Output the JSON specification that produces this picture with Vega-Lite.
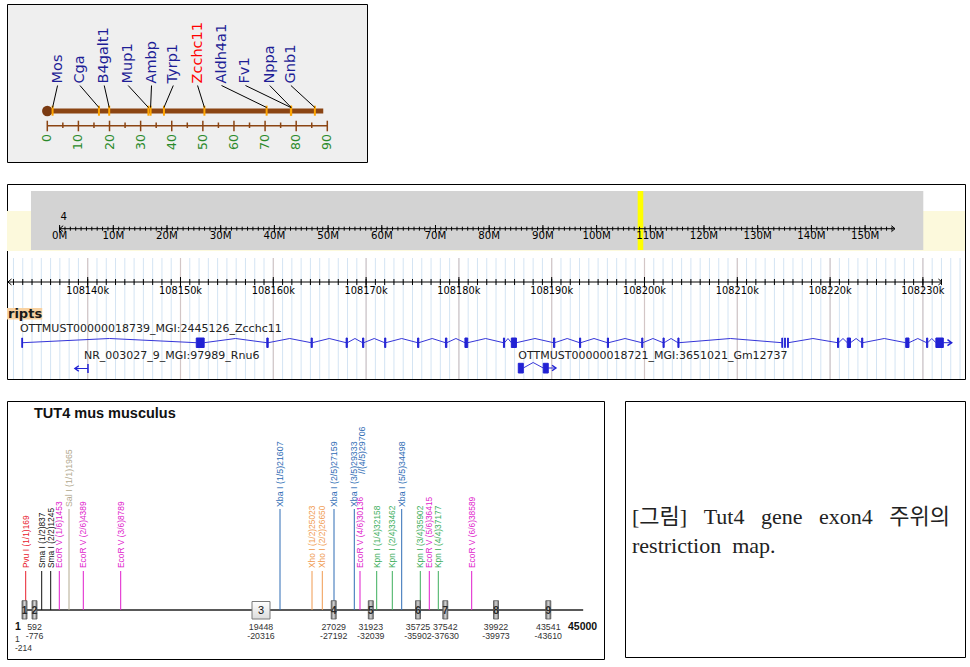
{
"$schema": "https://vega.github.io/schema/vega-lite/v6.json",
"padding": {"left": 5, "top": 3, "right": 5, "bottom": 2},
"background": "white",
"config": {"view": {"stroke": "#000000", "strokeWidth": 1}, "axis": {"disable": true}, "legend": {"disable": true}},
"datasets": {
"chr_cm": [{"start": 0, "end": 88.7}],
"cm_axis": [{"from": 0, "to": 90}],
"genes": [
{"gene": "Mos", "cm": 1.7, "lx": 3.3},
{"gene": "Cga", "cm": 16.6, "lx": 10.5},
{"gene": "B4galt1", "cm": 19.9, "lx": 18.3},
{"gene": "Mup1", "cm": 32.5, "lx": 26.0},
{"gene": "Ambp", "cm": 33.2, "lx": 33.5},
{"gene": "Tyrp1", "cm": 37.5, "lx": 40.5},
{"gene": "Zcchc11", "cm": 50.5, "lx": 48.3},
{"gene": "Aldh4a1", "cm": 70.5, "lx": 56.0},
{"gene": "Fv1", "cm": 78.3, "lx": 63.7},
{"gene": "Nppa", "cm": 78.4, "lx": 71.5},
{"gene": "Gnb1", "cm": 86.0, "lx": 78.3}],
"cm_major": [{"cm": 0}, {"cm": 10}, {"cm": 20}, {"cm": 30}, {"cm": 40}, {"cm": 50}, {"cm": 60}, {"cm": 70}, {"cm": 80}, {"cm": 90}],
"cm_minor": [5, 15, 25, 35, 45, 55, 65, 75, 85],
"view_kb": [{"from": 108131.304, "to": 108234.537}],
"k_all": [108132,108133,108134,108135,108136,108137,108138,108139,108140,108141,108142,108143,108144,108145,108146,108147,108148,108149,108150,108151,108152,108153,108154,108155,108156,108157,108158,108159,108160,108161,108162,108163,108164,108165,108166,108167,108168,108169,108170,108171,108172,108173,108174,108175,108176,108177,108178,108179,108180,108181,108182,108183,108184,108185,108186,108187,108188,108189,108190,108191,108192,108193,108194,108195,108196,108197,108198,108199,108200,108201,108202,108203,108204,108205,108206,108207,108208,108209,108210,108211,108212,108213,108214,108215,108216,108217,108218,108219,108220,108221,108222,108223,108224,108225,108226,108227,108228,108229,108230,108231,108232,108233,108234],
"k_major": [{"kb": 108140, "label": "108140k"}, {"kb": 108150, "label": "108150k"}, {"kb": 108160, "label": "108160k"}, {"kb": 108170, "label": "108170k"}, {"kb": 108180, "label": "108180k"}, {"kb": 108190, "label": "108190k"}, {"kb": 108200, "label": "108200k"}, {"kb": 108210, "label": "108210k"}, {"kb": 108220, "label": "108220k"}, {"kb": 108230, "label": "108230k"}],
"overview": [{"from": -5.33, "to": 160.84}],
"locus": [{"from": 107.65, "to": 108.69}],
"chr_mb": [{"chr": "4", "start": 0, "end": 155.57}],
"m_all": [0,1,2,3,4,5,6,7,8,9,10,11,12,13,14,15,16,17,18,19,20,21,22,23,24,25,26,27,28,29,30,31,32,33,34,35,36,37,38,39,40,41,42,43,44,45,46,47,48,49,50,51,52,53,54,55,56,57,58,59,60,61,62,63,64,65,66,67,68,69,70,71,72,73,74,75,76,77,78,79,80,81,82,83,84,85,86,87,88,89,90,91,92,93,94,95,96,97,98,99,100,101,102,103,104,105,106,107,108,109,110,111,112,113,114,115,116,117,118,119,120,121,122,123,124,125,126,127,128,129,130,131,132,133,134,135,136,137,138,139,140,141,142,143,144,145,146,147,148,149,150,151,152,153,154,155],
"m_major": [{"mb": 0, "label": "0M"}, {"mb": 10, "label": "10M"}, {"mb": 20, "label": "20M"}, {"mb": 30, "label": "30M"}, {"mb": 40, "label": "40M"}, {"mb": 50, "label": "50M"}, {"mb": 60, "label": "60M"}, {"mb": 70, "label": "70M"}, {"mb": 80, "label": "80M"}, {"mb": 90, "label": "90M"}, {"mb": 100, "label": "100M"}, {"mb": 110, "label": "110M"}, {"mb": 120, "label": "120M"}, {"mb": 130, "label": "130M"}, {"mb": 140, "label": "140M"}, {"mb": 150, "label": "150M"}],
"ruler_kb": [{"start": 108131.4, "end": 108232.06}],
"track_label": [{"label": "ripts", "from": 108131.304, "to": 108135.1}],
"transcripts": [
{"name": "OTTMUST00000018739_MGI:2445126_Zcchc11", "start": 108132.7, "row": 1},
{"name": "NR_003027_9_MGI:97989_Rnu6", "start": 108139.6, "row": 2},
{"name": "OTTMUST00000018721_MGI:3651021_Gm12737", "start": 108186.4, "row": 2}],
"z_exons": [
{"s": 108132.90, "e": 108132.98}, {"s": 108151.70, "e": 108152.55}, {"s": 108159.30, "e": 108159.45}, {"s": 108164.08, "e": 108164.20},
{"s": 108167.85, "e": 108167.98}, {"s": 108169.62, "e": 108169.75}, {"s": 108172.00, "e": 108172.12}, {"s": 108175.55, "e": 108175.68},
{"s": 108178.55, "e": 108178.70}, {"s": 108180.65, "e": 108180.95}, {"s": 108184.80, "e": 108184.92}, {"s": 108185.65, "e": 108186.20},
{"s": 108190.20, "e": 108190.33}, {"s": 108193.00, "e": 108193.12}, {"s": 108196.00, "e": 108196.12}, {"s": 108199.70, "e": 108199.82},
{"s": 108202.00, "e": 108202.12}, {"s": 108203.60, "e": 108203.72}, {"s": 108214.80, "e": 108214.88}, {"s": 108215.10, "e": 108215.18},
{"s": 108215.42, "e": 108215.50}, {"s": 108220.80, "e": 108220.92}, {"s": 108221.85, "e": 108222.20}, {"s": 108223.40, "e": 108223.52},
{"s": 108228.15, "e": 108228.50}, {"s": 108230.40, "e": 108230.52}, {"s": 108231.40, "e": 108232.20}],
"z_introns": [
{"s": 108132.98, "m": 108142.34, "e": 108151.70}, {"s": 108152.55, "m": 108155.93, "e": 108159.30}, {"s": 108159.45, "m": 108161.77, "e": 108164.08},
{"s": 108164.20, "m": 108166.03, "e": 108167.85}, {"s": 108167.98, "m": 108168.80, "e": 108169.62}, {"s": 108169.75, "m": 108170.88, "e": 108172.00},
{"s": 108172.12, "m": 108173.84, "e": 108175.55}, {"s": 108175.68, "m": 108177.12, "e": 108178.55}, {"s": 108178.70, "m": 108179.68, "e": 108180.65},
{"s": 108180.95, "m": 108182.88, "e": 108184.80}, {"s": 108184.92, "m": 108185.29, "e": 108185.65}, {"s": 108186.20, "m": 108188.20, "e": 108190.20},
{"s": 108190.33, "m": 108191.67, "e": 108193.00}, {"s": 108193.12, "m": 108194.56, "e": 108196.00}, {"s": 108196.12, "m": 108197.91, "e": 108199.70},
{"s": 108199.82, "m": 108200.91, "e": 108202.00}, {"s": 108202.12, "m": 108202.86, "e": 108203.60}, {"s": 108203.72, "m": 108209.26, "e": 108214.80},
{"s": 108215.50, "m": 108218.15, "e": 108220.80}, {"s": 108220.92, "m": 108221.39, "e": 108221.85}, {"s": 108222.20, "m": 108222.80, "e": 108223.40},
{"s": 108223.52, "m": 108225.84, "e": 108228.15}, {"s": 108228.50, "m": 108229.45, "e": 108230.40}, {"s": 108230.52, "m": 108230.96, "e": 108231.40}],
"z_end": [{"s": 108232.2, "e": 108233.1}],
"rnu6": [{"s": 108138.63, "e": 108140.03}],
"gm_exons": [{"s": 108186.40, "e": 108186.94}, {"s": 108189.09, "e": 108189.63}],
"gm_introns": [{"s": 108186.94, "m": 108188.0, "e": 108189.09}],
"gm_end": [{"s": 108189.63, "e": 108190.45}],
"seq": [{"name": "TUT4 mus musculus", "start": 1, "end": 45000}],
"sites": [
{"enz": "Pvu I", "label": "Pvu I (1/1)169", "pos": 169, "tier": "low"},
{"enz": "Sma I", "label": "Sma I (1/2)837", "pos": 837, "tier": "low"},
{"enz": "Sma I", "label": "Sma I (2/2)1245", "pos": 1245, "tier": "low"},
{"enz": "EcoR V", "label": "EcoR V (1/6)1453", "pos": 1453, "tier": "low"},
{"enz": "Sal I", "label": "Sal I (1/1)1965", "pos": 1965, "tier": "high"},
{"enz": "EcoR V", "label": "EcoR V (2/6)4389", "pos": 4389, "tier": "low"},
{"enz": "EcoR V", "label": "EcoR V (3/6)8789", "pos": 8789, "tier": "low"},
{"enz": "Xba I", "label": "Xba I (1/5)21607", "pos": 21607, "tier": "high"},
{"enz": "Xho I", "label": "Xho I (1/2)25023", "pos": 25023, "tier": "low"},
{"enz": "Xho I", "label": "Xho I (2/2)26650", "pos": 26650, "tier": "low"},
{"enz": "Xba I", "label": "Xba I (2/5)27159", "pos": 27159, "tier": "high"},
{"enz": "Xba I", "label": "Xba I (3/5)29333", "pos": 29333, "tier": "high"},
{"enz": "Xba I", "label": "//(4/5)29706", "pos": 29706, "tier": "note"},
{"enz": "EcoR V", "label": "EcoR V (4/6)30136", "pos": 30136, "tier": "low"},
{"enz": "Kpn I", "label": "Kpn I (1/4)32158", "pos": 32158, "tier": "low"},
{"enz": "Kpn I", "label": "Kpn I (2/4)33462", "pos": 33462, "tier": "low"},
{"enz": "Xba I", "label": "Xba I (5/5)34498", "pos": 34498, "tier": "high"},
{"enz": "Kpn I", "label": "Kpn I (3/4)35902", "pos": 35902, "tier": "low"},
{"enz": "EcoR V", "label": "EcoR V (5/6)36415", "pos": 36415, "tier": "low"},
{"enz": "Kpn I", "label": "Kpn I (4/4)37177", "pos": 37177, "tier": "low"},
{"enz": "EcoR V", "label": "EcoR V (6/6)38589", "pos": 38589, "tier": "low"}],
"exons": [
{"n": "1", "s": 1, "e": 214, "m": 107, "sl": "1", "el": "-214"},
{"n": "2", "s": 592, "e": 776, "m": 684, "sl": "592", "el": "-776"},
{"n": "3", "s": 19448, "e": 20316, "m": 19882, "sl": "19448", "el": "-20316"},
{"n": "4", "s": 27029, "e": 27192, "m": 27110, "sl": "27029", "el": "-27192"},
{"n": "5", "s": 31923, "e": 32039, "m": 31981, "sl": "31923", "el": "-32039"},
{"n": "6", "s": 35725, "e": 35902, "m": 35813, "sl": "35725", "el": "-35902"},
{"n": "7", "s": 37542, "e": 37630, "m": 37586, "sl": "37542", "el": "-37630"},
{"n": "8", "s": 39922, "e": 39973, "m": 39947, "sl": "39922", "el": "-39973"},
{"n": "9", "s": 43541, "e": 43610, "m": 43575, "sl": "43541", "el": "-43610"}],
"caption": [
{"line": 1, "t": "[그림]\u00a0\u00a0\u00a0Tut4\u00a0\u00a0\u00a0gene\u00a0\u00a0\u00a0exon4\u00a0\u00a0\u00a0주위의"},
{"line": 2, "t": "restriction\u00a0\u00a0map."}]
},
"spacing": 22,
"bounds": "flush",
"vconcat": [
{
"width": 360, "height": 158,
"view": {"fill": "#efefef"},
"layer": [
{"data": {"name": "chr_cm"}, "mark": {"type": "rule", "color": "#8b4513", "strokeWidth": 5},
 "encoding": {"x": {"field": "start", "type": "quantitative", "scale": {"domain": [-12.95, 102.76], "nice": false, "zero": false}}, "x2": {"field": "end"},
  "y": {"datum": 107, "scale": {"domain": [0, 158], "reverse": true, "nice": false, "zero": false}}}},
{"data": {"name": "chr_cm"}, "mark": {"type": "point", "shape": "circle", "filled": true, "size": 110, "color": "#7a3a12", "opacity": 1},
 "encoding": {"x": {"field": "start", "type": "quantitative", "scale": {"domain": [-12.95, 102.76], "nice": false, "zero": false}},
  "y": {"datum": 107, "scale": {"domain": [0, 158], "reverse": true, "nice": false, "zero": false}}}},
{"data": {"name": "genes"}, "mark": {"type": "rule", "color": "#ffa500", "strokeWidth": 2},
 "encoding": {"x": {"field": "cm", "type": "quantitative", "scale": {"domain": [-12.95, 102.76], "nice": false, "zero": false}},
  "y": {"datum": 101.7, "scale": {"domain": [0, 158], "reverse": true, "nice": false, "zero": false}}, "y2": {"datum": 111.7}}},
{"data": {"name": "genes"}, "mark": {"type": "rule", "color": "#000000", "strokeWidth": 1},
 "encoding": {"x": {"field": "lx", "type": "quantitative", "scale": {"domain": [-12.95, 102.76], "nice": false, "zero": false}}, "x2": {"field": "cm"},
  "y": {"datum": 81.5, "scale": {"domain": [0, 158], "reverse": true, "nice": false, "zero": false}}, "y2": {"datum": 103.5}}},
{"data": {"name": "genes"}, "mark": {"type": "text", "angle": 270, "align": "left", "baseline": "middle", "font": "DejaVu Sans", "fontSize": 14.5},
 "encoding": {"x": {"field": "lx", "type": "quantitative", "scale": {"domain": [-12.95, 102.76], "nice": false, "zero": false}},
  "y": {"datum": 79.5, "scale": {"domain": [0, 158], "reverse": true, "nice": false, "zero": false}},
  "text": {"field": "gene"},
  "color": {"condition": {"test": "datum.gene === 'Zcchc11'", "value": "#ff0000"}, "value": "#1e1e96"}}},
{"data": {"name": "cm_axis"}, "mark": {"type": "rule", "color": "#8b4513", "strokeWidth": 1.5},
 "encoding": {"x": {"field": "from", "type": "quantitative", "scale": {"domain": [-12.95, 102.76], "nice": false, "zero": false}}, "x2": {"field": "to"},
  "y": {"datum": 121.7, "scale": {"domain": [0, 158], "reverse": true, "nice": false, "zero": false}}}},
{"data": {"name": "cm_major"}, "mark": {"type": "rule", "color": "#8b4513", "strokeWidth": 1.5},
 "encoding": {"x": {"field": "cm", "type": "quantitative", "scale": {"domain": [-12.95, 102.76], "nice": false, "zero": false}},
  "y": {"datum": 116.7, "scale": {"domain": [0, 158], "reverse": true, "nice": false, "zero": false}}, "y2": {"datum": 127.3}}},
{"data": {"name": "cm_minor"}, "mark": {"type": "rule", "color": "#8b4513", "strokeWidth": 1.5},
 "encoding": {"x": {"field": "data", "type": "quantitative", "scale": {"domain": [-12.95, 102.76], "nice": false, "zero": false}},
  "y": {"datum": 118.5, "scale": {"domain": [0, 158], "reverse": true, "nice": false, "zero": false}}, "y2": {"datum": 124}}},
{"data": {"name": "cm_major"}, "mark": {"type": "text", "angle": 270, "align": "right", "baseline": "middle", "font": "DejaVu Sans", "fontSize": 12.5, "color": "#2a8a2a"},
 "encoding": {"x": {"field": "cm", "type": "quantitative", "scale": {"domain": [-12.95, 102.76], "nice": false, "zero": false}},
  "y": {"datum": 130, "scale": {"domain": [0, 158], "reverse": true, "nice": false, "zero": false}},
  "text": {"field": "cm", "type": "nominal"}}}
]
},
{
"width": 958, "height": 195,
"resolve": {"scale": {"x": "independent"}},
"layer": [
{"layer": [
 {"data": {"name": "view_kb"}, "mark": {"type": "rect", "fill": "#fcf9dc"},
  "encoding": {"x": {"field": "from", "type": "quantitative", "scale": {"domain": [108131.304, 108234.537], "nice": false, "zero": false}}, "x2": {"field": "to"},
   "y": {"datum": 27, "scale": {"domain": [0, 195], "reverse": true, "nice": false, "zero": false}}, "y2": {"datum": 67}}},
 {"data": {"name": "k_all"}, "mark": {"type": "rule", "color": "#d4e4f3", "strokeWidth": 1},
  "encoding": {"x": {"field": "data", "type": "quantitative", "scale": {"domain": [108131.304, 108234.537], "nice": false, "zero": false}},
   "y": {"datum": 74, "scale": {"domain": [0, 195], "reverse": true, "nice": false, "zero": false}}, "y2": {"datum": 195}}},
 {"data": {"name": "k_major"}, "mark": {"type": "rule", "color": "#d3c6c6", "strokeWidth": 1.2},
  "encoding": {"x": {"field": "kb", "type": "quantitative", "scale": {"domain": [108131.304, 108234.537], "nice": false, "zero": false}},
   "y": {"datum": 74, "scale": {"domain": [0, 195], "reverse": true, "nice": false, "zero": false}}, "y2": {"datum": 195}}}
]},
{"layer": [
 {"data": {"name": "overview"}, "mark": {"type": "rect", "fill": "#d3d3d3"},
  "encoding": {"x": {"field": "from", "type": "quantitative", "scale": {"domain": [-9.795, 168.604], "nice": false, "zero": false}}, "x2": {"field": "to"},
   "y": {"datum": 7, "scale": {"domain": [0, 195], "reverse": true, "nice": false, "zero": false}}, "y2": {"datum": 66}}},
 {"data": {"name": "locus"}, "mark": {"type": "rect", "fill": "#ffff00"},
  "encoding": {"x": {"field": "from", "type": "quantitative", "scale": {"domain": [-9.795, 168.604], "nice": false, "zero": false}}, "x2": {"field": "to"},
   "y": {"datum": 7, "scale": {"domain": [0, 195], "reverse": true, "nice": false, "zero": false}}, "y2": {"datum": 66}}},
 {"data": {"name": "chr_mb"}, "mark": {"type": "rule", "color": "#000000", "strokeWidth": 1},
  "encoding": {"x": {"field": "start", "type": "quantitative", "scale": {"domain": [-9.795, 168.604], "nice": false, "zero": false}}, "x2": {"field": "end"},
   "y": {"datum": 44.7, "scale": {"domain": [0, 195], "reverse": true, "nice": false, "zero": false}}}},
 {"data": {"name": "m_all"}, "mark": {"type": "rule", "color": "#000000", "strokeWidth": 1},
  "encoding": {"x": {"field": "data", "type": "quantitative", "scale": {"domain": [-9.795, 168.604], "nice": false, "zero": false}},
   "y": {"datum": 42.7, "scale": {"domain": [0, 195], "reverse": true, "nice": false, "zero": false}}, "y2": {"datum": 46.7}}},
 {"data": {"name": "m_major"}, "mark": {"type": "rule", "color": "#000000", "strokeWidth": 1},
  "encoding": {"x": {"field": "mb", "type": "quantitative", "scale": {"domain": [-9.795, 168.604], "nice": false, "zero": false}},
   "y": {"datum": 41, "scale": {"domain": [0, 195], "reverse": true, "nice": false, "zero": false}}, "y2": {"datum": 48.5}}},
 {"data": {"name": "m_major"}, "mark": {"type": "text", "baseline": "middle", "align": "center", "font": "DejaVu Sans", "fontSize": 10.2, "color": "#000000"},
  "encoding": {"x": {"field": "mb", "type": "quantitative", "scale": {"domain": [-9.795, 168.604], "nice": false, "zero": false}},
   "y": {"datum": 51.5, "scale": {"domain": [0, 195], "reverse": true, "nice": false, "zero": false}}, "text": {"field": "label"}}},
 {"data": {"name": "chr_mb"}, "mark": {"type": "text", "baseline": "middle", "align": "left", "dx": 1, "font": "DejaVu Sans", "fontSize": 10.2, "color": "#000000"},
  "encoding": {"x": {"field": "start", "type": "quantitative", "scale": {"domain": [-9.795, 168.604], "nice": false, "zero": false}},
   "y": {"datum": 33, "scale": {"domain": [0, 195], "reverse": true, "nice": false, "zero": false}}, "text": {"field": "chr"}}},
 {"data": {"name": "chr_mb"}, "mark": {"type": "point", "shape": "M1.2,-1L0,0L1.2,1", "filled": false, "size": 36, "color": "#000000", "strokeWidth": 1, "opacity": 1},
  "encoding": {"x": {"field": "start", "type": "quantitative", "scale": {"domain": [-9.795, 168.604], "nice": false, "zero": false}},
   "y": {"datum": 44.7, "scale": {"domain": [0, 195], "reverse": true, "nice": false, "zero": false}}}},
 {"data": {"name": "chr_mb"}, "mark": {"type": "point", "shape": "M-1.2,-1L0,0L-1.2,1", "filled": false, "size": 36, "color": "#000000", "strokeWidth": 1, "opacity": 1},
  "encoding": {"x": {"field": "end", "type": "quantitative", "scale": {"domain": [-9.795, 168.604], "nice": false, "zero": false}},
   "y": {"datum": 44.7, "scale": {"domain": [0, 195], "reverse": true, "nice": false, "zero": false}}}}
]},
{"layer": [
 {"data": {"name": "ruler_kb"}, "mark": {"type": "rule", "color": "#000000", "strokeWidth": 1},
  "encoding": {"x": {"field": "start", "type": "quantitative", "scale": {"domain": [108131.304, 108234.537], "nice": false, "zero": false}}, "x2": {"field": "end"},
   "y": {"datum": 98, "scale": {"domain": [0, 195], "reverse": true, "nice": false, "zero": false}}}},
 {"data": {"name": "k_all"}, "transform": [{"filter": "datum.data <= 108232"}], "mark": {"type": "rule", "color": "#000000", "strokeWidth": 1},
  "encoding": {"x": {"field": "data", "type": "quantitative", "scale": {"domain": [108131.304, 108234.537], "nice": false, "zero": false}},
   "y": {"datum": 95, "scale": {"domain": [0, 195], "reverse": true, "nice": false, "zero": false}}, "y2": {"datum": 101}}},
 {"data": {"name": "k_major"}, "mark": {"type": "rule", "color": "#000000", "strokeWidth": 1},
  "encoding": {"x": {"field": "kb", "type": "quantitative", "scale": {"domain": [108131.304, 108234.537], "nice": false, "zero": false}},
   "y": {"datum": 93, "scale": {"domain": [0, 195], "reverse": true, "nice": false, "zero": false}}, "y2": {"datum": 103.5}}},
 {"data": {"name": "k_major"}, "mark": {"type": "text", "baseline": "middle", "align": "center", "font": "DejaVu Sans", "fontSize": 9.8, "color": "#000000"},
  "encoding": {"x": {"field": "kb", "type": "quantitative", "scale": {"domain": [108131.304, 108234.537], "nice": false, "zero": false}},
   "y": {"datum": 106.5, "scale": {"domain": [0, 195], "reverse": true, "nice": false, "zero": false}}, "text": {"field": "label"}}},
 {"data": {"name": "ruler_kb"}, "mark": {"type": "point", "shape": "M1.2,-1L0,0L1.2,1", "filled": false, "size": 36, "color": "#000000", "strokeWidth": 1, "opacity": 1},
  "encoding": {"x": {"field": "start", "type": "quantitative", "scale": {"domain": [108131.304, 108234.537], "nice": false, "zero": false}},
   "y": {"datum": 98, "scale": {"domain": [0, 195], "reverse": true, "nice": false, "zero": false}}}},
 {"data": {"name": "ruler_kb"}, "mark": {"type": "point", "shape": "M-1.2,-1L0,0L-1.2,1", "filled": false, "size": 36, "color": "#000000", "strokeWidth": 1, "opacity": 1},
  "encoding": {"x": {"field": "end", "type": "quantitative", "scale": {"domain": [108131.304, 108234.537], "nice": false, "zero": false}},
   "y": {"datum": 98, "scale": {"domain": [0, 195], "reverse": true, "nice": false, "zero": false}}}},
 {"data": {"name": "track_label"}, "mark": {"type": "rect", "fill": "#f8d2a2"},
  "encoding": {"x": {"field": "from", "type": "quantitative", "scale": {"domain": [108131.304, 108234.537], "nice": false, "zero": false}}, "x2": {"field": "to"},
   "y": {"datum": 124, "scale": {"domain": [0, 195], "reverse": true, "nice": false, "zero": false}}, "y2": {"datum": 135.5}}},
 {"data": {"name": "track_label"}, "mark": {"type": "text", "baseline": "middle", "align": "left", "dx": 1, "font": "DejaVu Sans", "fontWeight": "bold", "fontSize": 13, "color": "#1a1a1a"},
  "encoding": {"x": {"field": "from", "type": "quantitative", "scale": {"domain": [108131.304, 108234.537], "nice": false, "zero": false}},
   "y": {"datum": 129.8, "scale": {"domain": [0, 195], "reverse": true, "nice": false, "zero": false}}, "text": {"field": "label"}}},
 {"data": {"name": "transcripts"}, "transform": [{"filter": "datum.row === 1"}], "mark": {"type": "text", "baseline": "middle", "align": "left", "font": "DejaVu Sans", "fontSize": 11, "color": "#222222"},
  "encoding": {"x": {"field": "start", "type": "quantitative", "scale": {"domain": [108131.304, 108234.537], "nice": false, "zero": false}},
   "y": {"datum": 145, "scale": {"domain": [0, 195], "reverse": true, "nice": false, "zero": false}}, "text": {"field": "name"}}},
 {"data": {"name": "transcripts"}, "transform": [{"filter": "datum.row === 2"}], "mark": {"type": "text", "baseline": "middle", "align": "left", "font": "DejaVu Sans", "fontSize": 11, "color": "#222222"},
  "encoding": {"x": {"field": "start", "type": "quantitative", "scale": {"domain": [108131.304, 108234.537], "nice": false, "zero": false}},
   "y": {"datum": 172, "scale": {"domain": [0, 195], "reverse": true, "nice": false, "zero": false}}, "text": {"field": "name"}}},
 {"data": {"name": "z_introns"}, "mark": {"type": "rule", "color": "#3535d8", "strokeWidth": 1},
  "encoding": {"x": {"field": "s", "type": "quantitative", "scale": {"domain": [108131.304, 108234.537], "nice": false, "zero": false}}, "x2": {"field": "m"},
   "y": {"datum": 158.7, "scale": {"domain": [0, 195], "reverse": true, "nice": false, "zero": false}}, "y2": {"datum": 154.5}}},
 {"data": {"name": "z_introns"}, "mark": {"type": "rule", "color": "#3535d8", "strokeWidth": 1},
  "encoding": {"x": {"field": "m", "type": "quantitative", "scale": {"domain": [108131.304, 108234.537], "nice": false, "zero": false}}, "x2": {"field": "e"},
   "y": {"datum": 154.5, "scale": {"domain": [0, 195], "reverse": true, "nice": false, "zero": false}}, "y2": {"datum": 158.7}}},
 {"data": {"name": "z_exons"}, "mark": {"type": "rect", "fill": "#2222d4", "stroke": "#2222d4", "strokeWidth": 1},
  "encoding": {"x": {"field": "s", "type": "quantitative", "scale": {"domain": [108131.304, 108234.537], "nice": false, "zero": false}}, "x2": {"field": "e"},
   "y": {"datum": 154, "scale": {"domain": [0, 195], "reverse": true, "nice": false, "zero": false}}, "y2": {"datum": 163.5}}},
 {"data": {"name": "z_end"}, "mark": {"type": "rule", "color": "#2222d4", "strokeWidth": 1},
  "encoding": {"x": {"field": "s", "type": "quantitative", "scale": {"domain": [108131.304, 108234.537], "nice": false, "zero": false}}, "x2": {"field": "e"},
   "y": {"datum": 158.7, "scale": {"domain": [0, 195], "reverse": true, "nice": false, "zero": false}}}},
 {"data": {"name": "z_end"}, "mark": {"type": "point", "shape": "M-1.4,-1L0,0L-1.4,1", "filled": false, "size": 36, "color": "#2222d4", "strokeWidth": 1.5, "opacity": 1},
  "encoding": {"x": {"field": "e", "type": "quantitative", "scale": {"domain": [108131.304, 108234.537], "nice": false, "zero": false}},
   "y": {"datum": 158.7, "scale": {"domain": [0, 195], "reverse": true, "nice": false, "zero": false}}}},
 {"data": {"name": "rnu6"}, "mark": {"type": "rule", "color": "#2222d4", "strokeWidth": 1},
  "encoding": {"x": {"field": "s", "type": "quantitative", "scale": {"domain": [108131.304, 108234.537], "nice": false, "zero": false}}, "x2": {"field": "e"},
   "y": {"datum": 184.5, "scale": {"domain": [0, 195], "reverse": true, "nice": false, "zero": false}}}},
 {"data": {"name": "rnu6"}, "mark": {"type": "rule", "color": "#2222d4", "strokeWidth": 1.5},
  "encoding": {"x": {"field": "e", "type": "quantitative", "scale": {"domain": [108131.304, 108234.537], "nice": false, "zero": false}},
   "y": {"datum": 180, "scale": {"domain": [0, 195], "reverse": true, "nice": false, "zero": false}}, "y2": {"datum": 189}}},
 {"data": {"name": "rnu6"}, "mark": {"type": "point", "shape": "M1.4,-1L0,0L1.4,1", "filled": false, "size": 30, "color": "#2222d4", "strokeWidth": 1.5, "opacity": 1},
  "encoding": {"x": {"field": "s", "type": "quantitative", "scale": {"domain": [108131.304, 108234.537], "nice": false, "zero": false}},
   "y": {"datum": 184.5, "scale": {"domain": [0, 195], "reverse": true, "nice": false, "zero": false}}}},
 {"data": {"name": "gm_introns"}, "mark": {"type": "rule", "color": "#3535d8", "strokeWidth": 1},
  "encoding": {"x": {"field": "s", "type": "quantitative", "scale": {"domain": [108131.304, 108234.537], "nice": false, "zero": false}}, "x2": {"field": "m"},
   "y": {"datum": 184, "scale": {"domain": [0, 195], "reverse": true, "nice": false, "zero": false}}, "y2": {"datum": 178.5}}},
 {"data": {"name": "gm_introns"}, "mark": {"type": "rule", "color": "#3535d8", "strokeWidth": 1},
  "encoding": {"x": {"field": "m", "type": "quantitative", "scale": {"domain": [108131.304, 108234.537], "nice": false, "zero": false}}, "x2": {"field": "e"},
   "y": {"datum": 178.5, "scale": {"domain": [0, 195], "reverse": true, "nice": false, "zero": false}}, "y2": {"datum": 184}}},
 {"data": {"name": "gm_exons"}, "mark": {"type": "rect", "fill": "#2222d4", "stroke": "#2222d4", "strokeWidth": 1},
  "encoding": {"x": {"field": "s", "type": "quantitative", "scale": {"domain": [108131.304, 108234.537], "nice": false, "zero": false}}, "x2": {"field": "e"},
   "y": {"datum": 179.3, "scale": {"domain": [0, 195], "reverse": true, "nice": false, "zero": false}}, "y2": {"datum": 189}}},
 {"data": {"name": "gm_end"}, "mark": {"type": "rule", "color": "#2222d4", "strokeWidth": 1},
  "encoding": {"x": {"field": "s", "type": "quantitative", "scale": {"domain": [108131.304, 108234.537], "nice": false, "zero": false}}, "x2": {"field": "e"},
   "y": {"datum": 184, "scale": {"domain": [0, 195], "reverse": true, "nice": false, "zero": false}}}},
 {"data": {"name": "gm_end"}, "mark": {"type": "point", "shape": "M-1.4,-1L0,0L-1.4,1", "filled": false, "size": 30, "color": "#2222d4", "strokeWidth": 1.5, "opacity": 1},
  "encoding": {"x": {"field": "e", "type": "quantitative", "scale": {"domain": [108131.304, 108234.537], "nice": false, "zero": false}},
   "y": {"datum": 184, "scale": {"domain": [0, 195], "reverse": true, "nice": false, "zero": false}}}}
]}
]
},
{
"hconcat": [
{
"width": 597, "height": 258,
"layer": [
 {"data": {"name": "seq"}, "mark": {"type": "text", "align": "left", "baseline": "middle", "dx": 10, "font": "Liberation Sans", "fontWeight": "bold", "fontSize": 14.5, "color": "#111111"},
  "encoding": {"x": {"field": "start", "type": "quantitative", "scale": {"type": "linear", "domain": [1,107,169,684,837,1245,1453,1965,4389,8789,19448,19882,20316,21607,25023,26650,27110,27159,29333,30136,31981,32158,33462,34498,35813,35902,36415,37177,37586,38589,39947,43575,45000], "range": [15,17.5,18.7,27.5,34.7,43.7,52.3,62,76.3,113.7,245,254,263,273,305,315.3,326.7,327,347.3,353,363.8,369.7,385.3,394.7,411,413.3,422.3,431.3,438.3,464.7,489,541.3,586], "nice": false, "zero": false}},
   "y": {"datum": 13, "scale": {"domain": [0, 258], "reverse": true, "nice": false, "zero": false}}, "text": {"field": "name"}}},
 {"data": {"name": "seq"}, "mark": {"type": "rule", "color": "#222222", "strokeWidth": 1.5},
  "encoding": {"x": {"field": "start", "type": "quantitative", "scale": {"type": "linear", "domain": [1,107,169,684,837,1245,1453,1965,4389,8789,19448,19882,20316,21607,25023,26650,27110,27159,29333,30136,31981,32158,33462,34498,35813,35902,36415,37177,37586,38589,39947,43575,45000], "range": [15,17.5,18.7,27.5,34.7,43.7,52.3,62,76.3,113.7,245,254,263,273,305,315.3,326.7,327,347.3,353,363.8,369.7,385.3,394.7,411,413.3,422.3,431.3,438.3,464.7,489,541.3,586], "nice": false, "zero": false}}, "x2": {"field": "end"},
   "y": {"datum": 209, "scale": {"domain": [0, 258], "reverse": true, "nice": false, "zero": false}}}},
 {"data": {"name": "sites"}, "transform": [{"filter": "datum.tier === 'low'"}], "mark": {"type": "rule", "strokeWidth": 1},
  "encoding": {"x": {"field": "pos", "type": "quantitative", "scale": {"type": "linear", "domain": [1,107,169,684,837,1245,1453,1965,4389,8789,19448,19882,20316,21607,25023,26650,27110,27159,29333,30136,31981,32158,33462,34498,35813,35902,36415,37177,37586,38589,39947,43575,45000], "range": [15,17.5,18.7,27.5,34.7,43.7,52.3,62,76.3,113.7,245,254,263,273,305,315.3,326.7,327,347.3,353,363.8,369.7,385.3,394.7,411,413.3,422.3,431.3,438.3,464.7,489,541.3,586], "nice": false, "zero": false}},
   "y": {"datum": 170, "scale": {"domain": [0, 258], "reverse": true, "nice": false, "zero": false}}, "y2": {"datum": 209},
   "color": {"field": "enz", "type": "nominal", "scale": {"domain": ["Pvu I", "Sma I", "EcoR V", "Sal I", "Xba I", "Xho I", "Kpn I"], "range": ["#e8202e", "#111111", "#e01ccc", "#b3aa90", "#2f6db5", "#f09a50", "#3cae5c"]}, "legend": null}}},
 {"data": {"name": "sites"}, "transform": [{"filter": "datum.tier === 'high'"}], "mark": {"type": "rule", "strokeWidth": 1},
  "encoding": {"x": {"field": "pos", "type": "quantitative", "scale": {"type": "linear", "domain": [1,107,169,684,837,1245,1453,1965,4389,8789,19448,19882,20316,21607,25023,26650,27110,27159,29333,30136,31981,32158,33462,34498,35813,35902,36415,37177,37586,38589,39947,43575,45000], "range": [15,17.5,18.7,27.5,34.7,43.7,52.3,62,76.3,113.7,245,254,263,273,305,315.3,326.7,327,347.3,353,363.8,369.7,385.3,394.7,411,413.3,422.3,431.3,438.3,464.7,489,541.3,586], "nice": false, "zero": false}},
   "y": {"datum": 108, "scale": {"domain": [0, 258], "reverse": true, "nice": false, "zero": false}}, "y2": {"datum": 209},
   "color": {"field": "enz", "type": "nominal", "scale": {"domain": ["Pvu I", "Sma I", "EcoR V", "Sal I", "Xba I", "Xho I", "Kpn I"], "range": ["#e8202e", "#111111", "#e01ccc", "#b3aa90", "#2f6db5", "#f09a50", "#3cae5c"]}, "legend": null}}},
 {"data": {"name": "sites"}, "transform": [{"filter": "datum.tier === 'low'"}], "mark": {"type": "text", "angle": 270, "align": "left", "baseline": "middle", "font": "Liberation Sans", "fontSize": 8.4},
  "encoding": {"x": {"field": "pos", "type": "quantitative", "scale": {"type": "linear", "domain": [1,107,169,684,837,1245,1453,1965,4389,8789,19448,19882,20316,21607,25023,26650,27110,27159,29333,30136,31981,32158,33462,34498,35813,35902,36415,37177,37586,38589,39947,43575,45000], "range": [15,17.5,18.7,27.5,34.7,43.7,52.3,62,76.3,113.7,245,254,263,273,305,315.3,326.7,327,347.3,353,363.8,369.7,385.3,394.7,411,413.3,422.3,431.3,438.3,464.7,489,541.3,586], "nice": false, "zero": false}},
   "y": {"datum": 167, "scale": {"domain": [0, 258], "reverse": true, "nice": false, "zero": false}}, "text": {"field": "label"},
   "color": {"field": "enz", "type": "nominal", "scale": {"domain": ["Pvu I", "Sma I", "EcoR V", "Sal I", "Xba I", "Xho I", "Kpn I"], "range": ["#e8202e", "#111111", "#e01ccc", "#b3aa90", "#2f6db5", "#f09a50", "#3cae5c"]}, "legend": null}}},
 {"data": {"name": "sites"}, "transform": [{"filter": "datum.tier === 'high'"}], "mark": {"type": "text", "angle": 270, "align": "left", "baseline": "middle", "font": "Liberation Sans", "fontSize": 8.8},
  "encoding": {"x": {"field": "pos", "type": "quantitative", "scale": {"type": "linear", "domain": [1,107,169,684,837,1245,1453,1965,4389,8789,19448,19882,20316,21607,25023,26650,27110,27159,29333,30136,31981,32158,33462,34498,35813,35902,36415,37177,37586,38589,39947,43575,45000], "range": [15,17.5,18.7,27.5,34.7,43.7,52.3,62,76.3,113.7,245,254,263,273,305,315.3,326.7,327,347.3,353,363.8,369.7,385.3,394.7,411,413.3,422.3,431.3,438.3,464.7,489,541.3,586], "nice": false, "zero": false}},
   "y": {"datum": 106, "scale": {"domain": [0, 258], "reverse": true, "nice": false, "zero": false}}, "text": {"field": "label"},
   "color": {"field": "enz", "type": "nominal", "scale": {"domain": ["Pvu I", "Sma I", "EcoR V", "Sal I", "Xba I", "Xho I", "Kpn I"], "range": ["#e8202e", "#111111", "#e01ccc", "#b3aa90", "#2f6db5", "#f09a50", "#3cae5c"]}, "legend": null}}},
 {"data": {"name": "sites"}, "transform": [{"filter": "datum.tier === 'note'"}], "mark": {"type": "text", "angle": 270, "align": "left", "baseline": "middle", "dy": 5.5, "font": "Liberation Sans", "fontSize": 8.8},
  "encoding": {"x": {"field": "pos", "type": "quantitative", "scale": {"type": "linear", "domain": [1,107,169,684,837,1245,1453,1965,4389,8789,19448,19882,20316,21607,25023,26650,27110,27159,29333,30136,31981,32158,33462,34498,35813,35902,36415,37177,37586,38589,39947,43575,45000], "range": [15,17.5,18.7,27.5,34.7,43.7,52.3,62,76.3,113.7,245,254,263,273,305,315.3,326.7,327,347.3,353,363.8,369.7,385.3,394.7,411,413.3,422.3,431.3,438.3,464.7,489,541.3,586], "nice": false, "zero": false}},
   "y": {"datum": 73, "scale": {"domain": [0, 258], "reverse": true, "nice": false, "zero": false}}, "text": {"field": "label"},
   "color": {"field": "enz", "type": "nominal", "scale": {"domain": ["Pvu I", "Sma I", "EcoR V", "Sal I", "Xba I", "Xho I", "Kpn I"], "range": ["#e8202e", "#111111", "#e01ccc", "#b3aa90", "#2f6db5", "#f09a50", "#3cae5c"]}, "legend": null}}},
 {"data": {"name": "exons"}, "transform": [{"filter": "datum.n !== '3'"}], "mark": {"type": "bar", "width": 5, "stroke": "#555555", "strokeWidth": 0.8,
   "fill": {"gradient": "linear", "x1": 0, "y1": 0, "x2": 1, "y2": 0, "stops": [{"offset": 0, "color": "#6e6e6e"}, {"offset": 0.5, "color": "#d6d6d6"}, {"offset": 1, "color": "#6e6e6e"}]}},
  "encoding": {"x": {"field": "m", "type": "quantitative", "scale": {"type": "linear", "domain": [1,107,169,684,837,1245,1453,1965,4389,8789,19448,19882,20316,21607,25023,26650,27110,27159,29333,30136,31981,32158,33462,34498,35813,35902,36415,37177,37586,38589,39947,43575,45000], "range": [15,17.5,18.7,27.5,34.7,43.7,52.3,62,76.3,113.7,245,254,263,273,305,315.3,326.7,327,347.3,353,363.8,369.7,385.3,394.7,411,413.3,422.3,431.3,438.3,464.7,489,541.3,586], "nice": false, "zero": false}},
   "y": {"datum": 199.7, "scale": {"domain": [0, 258], "reverse": true, "nice": false, "zero": false}}, "y2": {"datum": 218}}},
 {"data": {"name": "exons"}, "transform": [{"filter": "datum.n === '3'"}], "mark": {"type": "rect", "stroke": "#7a7a7a", "strokeWidth": 1,
   "fill": {"gradient": "linear", "x1": 0, "y1": 0, "x2": 0, "y2": 1, "stops": [{"offset": 0, "color": "#ffffff"}, {"offset": 1, "color": "#dcdcdc"}]}},
  "encoding": {"x": {"field": "s", "type": "quantitative", "scale": {"type": "linear", "domain": [1,107,169,684,837,1245,1453,1965,4389,8789,19448,19882,20316,21607,25023,26650,27110,27159,29333,30136,31981,32158,33462,34498,35813,35902,36415,37177,37586,38589,39947,43575,45000], "range": [15,17.5,18.7,27.5,34.7,43.7,52.3,62,76.3,113.7,245,254,263,273,305,315.3,326.7,327,347.3,353,363.8,369.7,385.3,394.7,411,413.3,422.3,431.3,438.3,464.7,489,541.3,586], "nice": false, "zero": false}}, "x2": {"field": "e"},
   "y": {"datum": 200.5, "scale": {"domain": [0, 258], "reverse": true, "nice": false, "zero": false}}, "y2": {"datum": 218}}},
 {"data": {"name": "exons"}, "transform": [{"filter": "datum.n !== '3'"}], "mark": {"type": "text", "align": "center", "baseline": "middle", "font": "Liberation Sans", "fontWeight": "bold", "fontSize": 10, "color": "#2a2a2a"},
  "encoding": {"x": {"field": "m", "type": "quantitative", "scale": {"type": "linear", "domain": [1,107,169,684,837,1245,1453,1965,4389,8789,19448,19882,20316,21607,25023,26650,27110,27159,29333,30136,31981,32158,33462,34498,35813,35902,36415,37177,37586,38589,39947,43575,45000], "range": [15,17.5,18.7,27.5,34.7,43.7,52.3,62,76.3,113.7,245,254,263,273,305,315.3,326.7,327,347.3,353,363.8,369.7,385.3,394.7,411,413.3,422.3,431.3,438.3,464.7,489,541.3,586], "nice": false, "zero": false}},
   "y": {"datum": 209.5, "scale": {"domain": [0, 258], "reverse": true, "nice": false, "zero": false}}, "text": {"field": "n"}}},
 {"data": {"name": "exons"}, "transform": [{"filter": "datum.n === '3'"}], "mark": {"type": "text", "align": "center", "baseline": "middle", "font": "Liberation Sans", "fontSize": 11, "color": "#111111"},
  "encoding": {"x": {"field": "m", "type": "quantitative", "scale": {"type": "linear", "domain": [1,107,169,684,837,1245,1453,1965,4389,8789,19448,19882,20316,21607,25023,26650,27110,27159,29333,30136,31981,32158,33462,34498,35813,35902,36415,37177,37586,38589,39947,43575,45000], "range": [15,17.5,18.7,27.5,34.7,43.7,52.3,62,76.3,113.7,245,254,263,273,305,315.3,326.7,327,347.3,353,363.8,369.7,385.3,394.7,411,413.3,422.3,431.3,438.3,464.7,489,541.3,586], "nice": false, "zero": false}},
   "y": {"datum": 209.5, "scale": {"domain": [0, 258], "reverse": true, "nice": false, "zero": false}}, "text": {"field": "n"}}},
 {"data": {"name": "exons"}, "transform": [{"filter": "datum.n !== '1'"}], "mark": {"type": "text", "align": "center", "baseline": "middle", "font": "Liberation Sans", "fontSize": 8.8, "color": "#333333"},
  "encoding": {"x": {"field": "m", "type": "quantitative", "scale": {"type": "linear", "domain": [1,107,169,684,837,1245,1453,1965,4389,8789,19448,19882,20316,21607,25023,26650,27110,27159,29333,30136,31981,32158,33462,34498,35813,35902,36415,37177,37586,38589,39947,43575,45000], "range": [15,17.5,18.7,27.5,34.7,43.7,52.3,62,76.3,113.7,245,254,263,273,305,315.3,326.7,327,347.3,353,363.8,369.7,385.3,394.7,411,413.3,422.3,431.3,438.3,464.7,489,541.3,586], "nice": false, "zero": false}},
   "y": {"datum": 225.7, "scale": {"domain": [0, 258], "reverse": true, "nice": false, "zero": false}}, "text": {"field": "sl"}}},
 {"data": {"name": "exons"}, "transform": [{"filter": "datum.n !== '1'"}], "mark": {"type": "text", "align": "center", "baseline": "middle", "font": "Liberation Sans", "fontSize": 8.8, "color": "#333333"},
  "encoding": {"x": {"field": "m", "type": "quantitative", "scale": {"type": "linear", "domain": [1,107,169,684,837,1245,1453,1965,4389,8789,19448,19882,20316,21607,25023,26650,27110,27159,29333,30136,31981,32158,33462,34498,35813,35902,36415,37177,37586,38589,39947,43575,45000], "range": [15,17.5,18.7,27.5,34.7,43.7,52.3,62,76.3,113.7,245,254,263,273,305,315.3,326.7,327,347.3,353,363.8,369.7,385.3,394.7,411,413.3,422.3,431.3,438.3,464.7,489,541.3,586], "nice": false, "zero": false}},
   "y": {"datum": 234.8, "scale": {"domain": [0, 258], "reverse": true, "nice": false, "zero": false}}, "text": {"field": "el"}}},
 {"data": {"name": "exons"}, "transform": [{"filter": "datum.n === '1'"}], "mark": {"type": "text", "align": "left", "baseline": "middle", "dx": -9, "font": "Liberation Sans", "fontSize": 8.5, "color": "#333333"},
  "encoding": {"x": {"field": "s", "type": "quantitative", "scale": {"type": "linear", "domain": [1,107,169,684,837,1245,1453,1965,4389,8789,19448,19882,20316,21607,25023,26650,27110,27159,29333,30136,31981,32158,33462,34498,35813,35902,36415,37177,37586,38589,39947,43575,45000], "range": [15,17.5,18.7,27.5,34.7,43.7,52.3,62,76.3,113.7,245,254,263,273,305,315.3,326.7,327,347.3,353,363.8,369.7,385.3,394.7,411,413.3,422.3,431.3,438.3,464.7,489,541.3,586], "nice": false, "zero": false}},
   "y": {"datum": 237.5, "scale": {"domain": [0, 258], "reverse": true, "nice": false, "zero": false}}, "text": {"field": "sl"}}},
 {"data": {"name": "exons"}, "transform": [{"filter": "datum.n === '1'"}], "mark": {"type": "text", "align": "left", "baseline": "middle", "dx": -9, "font": "Liberation Sans", "fontSize": 8.5, "color": "#333333"},
  "encoding": {"x": {"field": "s", "type": "quantitative", "scale": {"type": "linear", "domain": [1,107,169,684,837,1245,1453,1965,4389,8789,19448,19882,20316,21607,25023,26650,27110,27159,29333,30136,31981,32158,33462,34498,35813,35902,36415,37177,37586,38589,39947,43575,45000], "range": [15,17.5,18.7,27.5,34.7,43.7,52.3,62,76.3,113.7,245,254,263,273,305,315.3,326.7,327,347.3,353,363.8,369.7,385.3,394.7,411,413.3,422.3,431.3,438.3,464.7,489,541.3,586], "nice": false, "zero": false}},
   "y": {"datum": 246.5, "scale": {"domain": [0, 258], "reverse": true, "nice": false, "zero": false}}, "text": {"field": "el"}}},
 {"data": {"name": "seq"}, "mark": {"type": "text", "align": "left", "baseline": "middle", "dx": -9, "font": "Liberation Sans", "fontWeight": "bold", "fontSize": 10.5, "color": "#111111"},
  "encoding": {"x": {"field": "start", "type": "quantitative", "scale": {"type": "linear", "domain": [1,107,169,684,837,1245,1453,1965,4389,8789,19448,19882,20316,21607,25023,26650,27110,27159,29333,30136,31981,32158,33462,34498,35813,35902,36415,37177,37586,38589,39947,43575,45000], "range": [15,17.5,18.7,27.5,34.7,43.7,52.3,62,76.3,113.7,245,254,263,273,305,315.3,326.7,327,347.3,353,363.8,369.7,385.3,394.7,411,413.3,422.3,431.3,438.3,464.7,489,541.3,586], "nice": false, "zero": false}},
   "y": {"datum": 225.7, "scale": {"domain": [0, 258], "reverse": true, "nice": false, "zero": false}}, "text": {"field": "start", "type": "nominal"}}},
 {"data": {"name": "seq"}, "mark": {"type": "text", "align": "right", "baseline": "middle", "dx": 14, "font": "Liberation Sans", "fontWeight": "bold", "fontSize": 10.5, "color": "#111111"},
  "encoding": {"x": {"field": "end", "type": "quantitative", "scale": {"type": "linear", "domain": [1,107,169,684,837,1245,1453,1965,4389,8789,19448,19882,20316,21607,25023,26650,27110,27159,29333,30136,31981,32158,33462,34498,35813,35902,36415,37177,37586,38589,39947,43575,45000], "range": [15,17.5,18.7,27.5,34.7,43.7,52.3,62,76.3,113.7,245,254,263,273,305,315.3,326.7,327,347.3,353,363.8,369.7,385.3,394.7,411,413.3,422.3,431.3,438.3,464.7,489,541.3,586], "nice": false, "zero": false}},
   "y": {"datum": 225.7, "scale": {"domain": [0, 258], "reverse": true, "nice": false, "zero": false}}, "text": {"field": "end", "type": "nominal"}}}
]
},
{
"width": 340, "height": 256,
"layer": [
 {"data": {"name": "caption"}, "mark": {"type": "text", "align": "left", "baseline": "middle", "font": "'Liberation Serif', 'Noto Sans CJK KR', serif", "fontSize": 22, "color": "#222222"},
  "encoding": {"x": {"datum": 7, "scale": {"domain": [0, 340], "nice": false, "zero": false}},
   "y": {"field": "line", "type": "quantitative", "scale": {"domain": [-3, 5.828], "reverse": true, "nice": false, "zero": false}},
   "text": {"field": "t"}}}
]
}
],
"spacing": 21,
"bounds": "flush"
}
]
}
